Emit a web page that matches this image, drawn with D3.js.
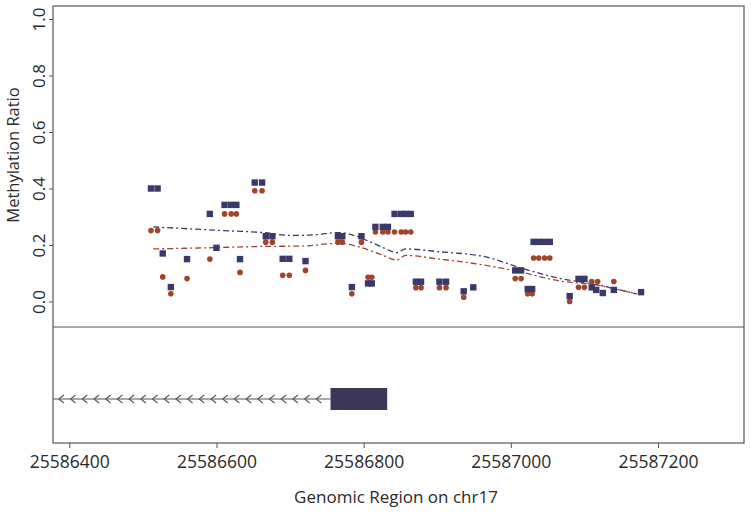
<!DOCTYPE html>
<html><head><meta charset="utf-8">
<script src="https://cdn.jsdelivr.net/npm/d3@7/dist/d3.min.js"></script>
<style>
body{margin:0;background:#fff;}
text{font-family:"Open Sans","Noto Sans",sans-serif;fill:#2a2a2a;}
</style></head>
<body><svg id="c" width="751" height="518"></svg>
<script>
// ---- data ----
const bluePos = [25586511,25586520,25586527,25586538,25586560,25586591,25586600,25586611,25586620,25586627,25586632,25586652,25586662,25586667,25586676,25586690,25586699,25586721,25586765,25586771,25586784,25586797,25586806,25586811,25586816,25586826,25586833,25586842,25586851,25586857,25586864,25586871,25586878,25586903,25586912,25586936,25586949,25587006,25587014,25587023,25587029,25587031,25587038,25587046,25587053,25587080,25587092,25587100,25587110,25587116,25587125,25587140,25587177];
const blueVal = [0.40,0.40,0.17,0.051,0.15,0.31,0.19,0.342,0.342,0.342,0.15,0.421,0.421,0.231,0.231,0.151,0.151,0.143,0.231,0.231,0.051,0.231,0.064,0.064,0.264,0.264,0.264,0.31,0.31,0.31,0.31,0.070,0.070,0.070,0.070,0.036,0.050,0.110,0.110,0.044,0.044,0.211,0.211,0.211,0.211,0.019,0.080,0.080,0.050,0.041,0.030,0.041,0.033];
const redPos = [25586511,25586520,25586527,25586538,25586560,25586591,25586611,25586620,25586627,25586632,25586652,25586662,25586667,25586676,25586690,25586699,25586721,25586765,25586771,25586784,25586797,25586806,25586811,25586816,25586826,25586833,25586842,25586851,25586857,25586864,25586871,25586878,25586903,25586912,25586936,25587006,25587014,25587023,25587029,25587031,25587038,25587046,25587053,25587080,25587092,25587100,25587110,25587118,25587140];
const redVal = [0.251,0.251,0.087,0.027,0.081,0.15,0.31,0.31,0.31,0.103,0.392,0.392,0.21,0.21,0.093,0.093,0.110,0.21,0.21,0.027,0.21,0.086,0.086,0.246,0.246,0.246,0.246,0.246,0.246,0.246,0.049,0.049,0.049,0.049,0.015,0.081,0.081,0.027,0.027,0.154,0.154,0.154,0.154,0.0,0.050,0.050,0.071,0.071,0.071];
const blueSmoothPos = [25586514,25586564,25586618,25586663,25586700,25586727,25586767,25586788,25586808,25586828,25586845,25586857,25586903,25586964,25587012,25587066,25587120,25587148,25587171];
const blueSmoothVal = [0.264,0.257,0.250,0.244,0.234,0.235,0.244,0.233,0.212,0.189,0.173,0.186,0.176,0.159,0.120,0.082,0.058,0.041,0.027];
const redSmoothPos = [25586514,25586618,25586663,25586713,25586767,25586794,25586822,25586845,25586857,25586903,25586964,25587012,25587066,25587120,25587148,25587171];
const redSmoothVal = [0.186,0.192,0.195,0.196,0.206,0.193,0.168,0.147,0.163,0.150,0.129,0.105,0.073,0.057,0.041,0.027];
const yTicks = [0.0,0.2,0.4,0.6,0.8,1.0];
const xTicks = [25586400,25586600,25586800,25587000,25587200];
const exonStart = 25586755, exonEnd = 25586832;
const geneStart = 25586377.85;

// ---- layout ----
const svg = d3.select("#c");
const L = 53, R = 744, T = 6, M = 327, B = 443, geneY = 399;
const x = d3.scaleLinear().domain([25586377.85, 25587316.9]).range([L, R]);
const y = d3.scaleLinear().domain([-0.0903, 1.046]).range([M, T]);
const blue = "#3b3969", red = "#a0442b";

// frames
svg.append("rect").attr("x",L).attr("y",T).attr("width",R-L).attr("height",B-T)
  .attr("fill","none").attr("stroke","#555").attr("stroke-width",1.2);
svg.append("line").attr("x1",L).attr("x2",R).attr("y1",M).attr("y2",M).attr("stroke","#555").attr("stroke-width",1.2);

// y axis
const yAx = svg.append("g").attr("transform",`translate(${L},0)`)
  .call(d3.axisLeft(y).tickValues(yTicks).tickSize(4).tickFormat(d3.format(".1f")));
yAx.select(".domain").remove();
yAx.selectAll("line").attr("stroke","#555");
yAx.selectAll("text").attr("transform","rotate(-90)")
  .attr("x",0).attr("y",-8).attr("dy",0).attr("text-anchor","middle")
  .style("font-size","17px").style("font-family","'Open Sans',sans-serif").attr("fill","#2a2a2a");

svg.append("text").attr("transform","translate(19,155) rotate(-90)").attr("text-anchor","middle")
  .style("font-size","16.5px").text("Methylation Ratio");

// x axis
const xAx = svg.append("g").attr("transform",`translate(0,${B})`)
  .call(d3.axisBottom(x).tickValues(xTicks).tickSize(5).tickFormat(d3.format("d")));
xAx.select(".domain").remove();
xAx.selectAll("line").attr("stroke","#555");
xAx.selectAll("text").attr("y",25).attr("dy",0)
  .style("font-size","17.5px").style("font-family","'Open Sans',sans-serif").attr("fill","#2a2a2a");
svg.append("text").attr("x",396).attr("y",503).attr("text-anchor","middle")
  .style("font-size","17px").text("Genomic Region on chr17");

// smoothing lines
const line = d3.line().curve(d3.curveMonotoneX);
svg.append("path").attr("d", line(blueSmoothPos.map((p,i)=>[x(p), y(blueSmoothVal[i])])))
  .attr("fill","none").attr("stroke",blue).attr("stroke-width",1.3).attr("stroke-dasharray","6,3,2,3");
svg.append("path").attr("d", line(redSmoothPos.map((p,i)=>[x(p), y(redSmoothVal[i])])))
  .attr("fill","none").attr("stroke",red).attr("stroke-width",1.3).attr("stroke-dasharray","6,3,2,3");

// points
svg.append("g").selectAll("circle").data(redPos).join("circle")
  .attr("cx", d=>x(d)).attr("cy",(d,i)=>y(redVal[i])).attr("r",2.8).attr("fill",red);
svg.append("g").selectAll("rect").data(bluePos).join("rect")
  .attr("x", d=>x(d)-3.2).attr("y",(d,i)=>y(blueVal[i])-3.2).attr("width",6.4).attr("height",6.4).attr("fill",blue);

// gene track
const g = svg.append("g");
g.append("line").attr("x1",x(geneStart)).attr("x2",x(exonStart)).attr("y1",geneY).attr("y2",geneY)
  .attr("stroke","#555").attr("stroke-width",1.2);
const chev = d3.range(geneStart + 8, exonStart - 6, 15.9);
g.selectAll("path.ch").data(chev).join("path").attr("class","ch")
  .attr("d", d=>`M${x(d)+5},${geneY-4} L${x(d)},${geneY} L${x(d)+5},${geneY+4}`)
  .attr("fill","none").attr("stroke","#555").attr("stroke-width",1.1);
g.append("rect").attr("x",x(exonStart)).attr("width",x(exonEnd)-x(exonStart))
  .attr("y",geneY-11).attr("height",22).attr("fill","#3d3659");
</script></body></html>
